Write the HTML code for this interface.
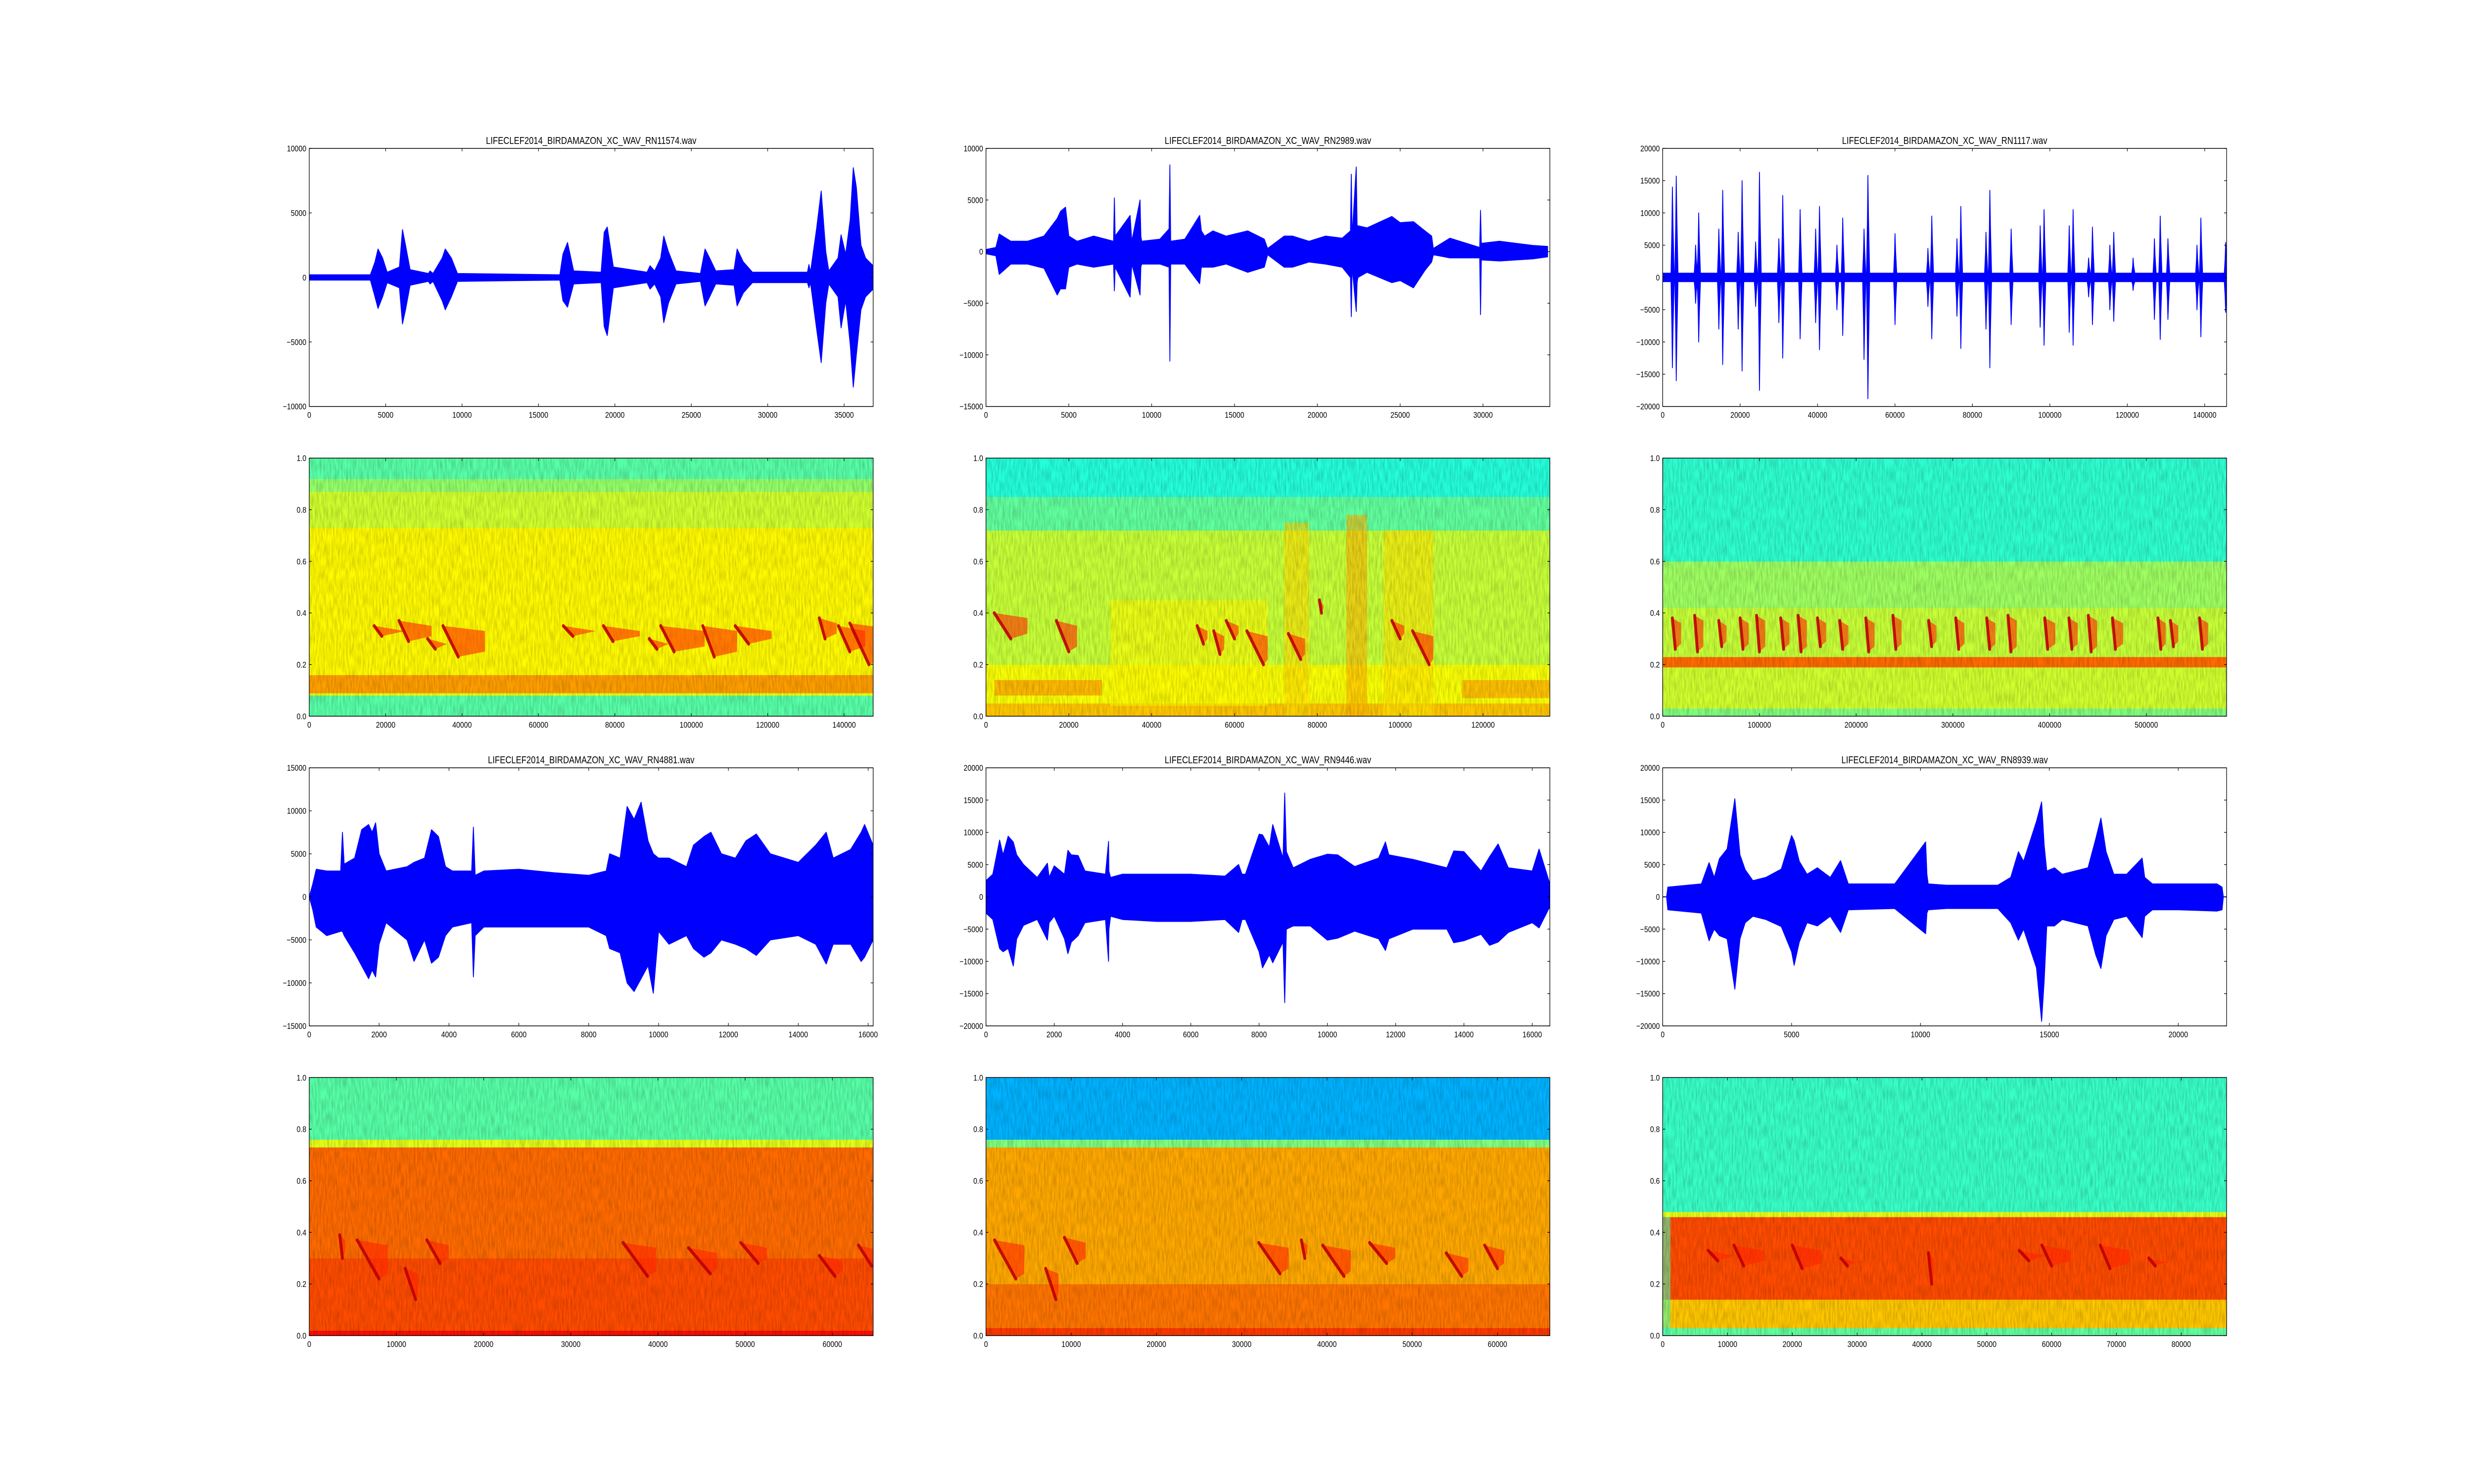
<!DOCTYPE html>
<html>
<head>
<meta charset="utf-8">
<style>
  html, body { margin: 0; padding: 0; background: #fff; width: 100%; height: 100%; overflow: hidden; }
  svg { display: block; width: 100vw; height: 100vh; }
  text { font-family: "Liberation Sans", "DejaVu Sans", sans-serif; fill: #000; }
</style>
</head>
<body>
<svg id="fig" viewBox="0 0 6000 3000" preserveAspectRatio="none" xmlns="http://www.w3.org/2000/svg">
  <defs>
    <filter id="speckle" x="0" y="0" width="100%" height="100%">
      <feTurbulence type="fractalNoise" baseFrequency="0.25 0.04" numOctaves="2" seed="3" result="n"/>
      <feColorMatrix type="matrix" values="0 0 0 0 0  0 0 0 0 0  0 0 0 0 0  0 0 0 -1.6 1.1" in="n"/>
    </filter>
  </defs>
  <rect x="0" y="0" width="6000" height="3000" fill="#ffffff"/>
</svg>
<script>
// ---------------- DATA ----------------
const titles = [
  "LIFECLEF2014_BIRDAMAZON_XC_WAV_RN11574.wav",
  "LIFECLEF2014_BIRDAMAZON_XC_WAV_RN2989.wav",
  "LIFECLEF2014_BIRDAMAZON_XC_WAV_RN1117.wav",
  "LIFECLEF2014_BIRDAMAZON_XC_WAV_RN4881.wav",
  "LIFECLEF2014_BIRDAMAZON_XC_WAV_RN9446.wav",
  "LIFECLEF2014_BIRDAMAZON_XC_WAV_RN8939.wav"
];
const waveXmax = [36900, 34036, 145650, 16144, 16517, 21876];
const waveYmin = [-10000, -15000, -20000, -15000, -20000, -20000];
const waveYmax = [10000, 10000, 20000, 15000, 20000, 20000];
const waveXTicks = [
  [0,5000,10000,15000,20000,25000,30000,35000],
  [0,5000,10000,15000,20000,25000,30000],
  [0,20000,40000,60000,80000,100000,120000,140000],
  [0,2000,4000,6000,8000,10000,12000,14000,16000],
  [0,2000,4000,6000,8000,10000,12000,14000,16000],
  [0,5000,10000,15000,20000]
];
const waveYTicks = [
  [-10000,-5000,0,5000,10000],
  [-15000,-10000,-5000,0,5000,10000],
  [-20000,-15000,-10000,-5000,0,5000,10000,15000,20000],
  [-15000,-10000,-5000,0,5000,10000,15000],
  [-20000,-15000,-10000,-5000,0,5000,10000,15000,20000],
  [-20000,-15000,-10000,-5000,0,5000,10000,15000,20000]
];

const w1x  = [0,4000,4300,4500,4800,5100,5900,6100,6300,6600,7800,7900,8100,8700,8900,9300,9700,16400,16600,16900,17300,19100,19300,19500,19900,22100,22300,22600,23000,23200,23500,24000,25600,25900,26200,26600,27800,28000,28400,29000,32600,32700,32800,33200,33500,33800,34000,34600,34800,35100,35400,35600,35800,36100,36400,36900];
const w1hi = [200,200,1200,2200,1500,400,800,3700,2500,600,300,500,300,1500,2200,1500,300,200,1800,2700,500,400,3500,3900,800,400,900,500,1500,3200,2000,500,300,2200,1500,500,600,2200,1200,400,400,1000,400,3800,6700,2000,500,1500,3300,1800,4500,8500,7000,2500,1500,900];
const w1lo = [-200,-200,-1500,-2400,-1500,-400,-800,-3600,-2500,-600,-300,-500,-300,-1800,-2500,-1500,-300,-200,-1800,-2300,-500,-400,-3800,-4500,-800,-400,-900,-500,-1500,-3500,-2000,-500,-300,-2200,-1500,-500,-600,-2200,-1200,-400,-400,-800,-400,-4000,-6600,-2000,-500,-1500,-3900,-1800,-5200,-8500,-6000,-2500,-1500,-900];

const w2x  = [0,600,800,1500,2500,3500,4300,4500,4800,5000,5500,6500,7700,7750,7800,8700,8800,9300,9350,9400,10500,11050,11100,11150,12000,12900,13000,13200,13700,14500,15800,16800,17000,18000,18500,19500,20500,21500,22000,22050,22100,22350,22400,22450,23000,24500,25000,25800,26500,26900,27000,28000,29800,29850,29900,31000,33000,33900];
const w2hi = [200,400,1700,1000,1000,1500,3200,3900,4300,1500,1000,1500,1000,5200,1500,3500,1000,5000,1500,1000,1200,2200,8400,1000,1200,3500,2000,1500,2000,1500,2000,1200,300,1500,1500,1000,1500,1300,2000,7500,1500,8200,2500,2500,2300,3400,2800,2900,2000,1500,300,1300,400,4000,800,1000,600,500];
const w2lo = [-200,-400,-2200,-1200,-1200,-1600,-4200,-3600,-3600,-1500,-1200,-1500,-1200,-3800,-1500,-4400,-1200,-4200,-1500,-1200,-1200,-1500,-10600,-1200,-1200,-3100,-1500,-1500,-1500,-1200,-2000,-1500,-300,-1500,-1500,-1000,-1200,-1500,-2500,-6300,-1500,-5800,-3000,-2500,-2000,-3000,-2800,-3500,-1800,-1000,-300,-600,-600,-6100,-800,-900,-700,-500];

const w3base = 650;
const w3spikeX  = [2500,3500,8500,9300,14500,15500,19500,20500,24000,25000,30000,31000,35500,39500,40500,45000,46500,52000,53000,60000,68500,69500,76000,77000,83500,84500,90000,97500,98500,105000,106000,110000,111000,115500,116500,121500,127000,128500,130500,138000,139000,145400];
const w3spikeHi = [14000,15700,5000,10000,7500,13500,7000,15000,5500,16300,6000,12700,10500,7500,11000,5000,9200,7500,15800,6800,4500,9500,6000,11000,7000,13500,7500,8000,10500,8000,10500,3000,7800,5000,7000,3000,6000,9500,6000,5000,9200,5400];
const w3spikeLo = [-14000,-16000,-4000,-10000,-8000,-13500,-8000,-14500,-4500,-17500,-7000,-12500,-9500,-7000,-11200,-5000,-9000,-12700,-18800,-7300,-4500,-9500,-6000,-11000,-8000,-14000,-7300,-7700,-10500,-8500,-10500,-3000,-7300,-5000,-6800,-2000,-6500,-9600,-6500,-5000,-9200,-5400];

const w4x  = [0,100,200,500,900,950,1000,1300,1500,1700,1800,1900,2000,2200,2800,3000,3300,3500,3700,3900,4100,4650,4700,4750,5000,6000,7000,8000,8500,8600,8900,9100,9300,9500,9700,9850,10000,10300,10800,11000,11300,11500,11800,12200,12500,12800,13200,14000,14500,14800,15000,15500,15800,15900,16144];
const w4hi = [0,1500,3200,3000,3000,7500,3800,4500,7800,8400,7500,8600,5000,3000,3500,4000,4500,7800,7000,3500,3000,3000,8100,2500,3000,3200,2800,2500,3000,5000,4500,10500,9000,11000,6500,5000,4500,4500,3500,6000,7000,7500,5000,4500,6500,7300,5000,4000,6000,7500,4500,5500,7500,8400,6000];
const w4lo = [0,-1500,-3500,-4500,-4000,-4000,-4500,-6500,-8000,-9500,-8500,-9300,-5500,-3000,-5000,-7500,-5000,-7700,-7000,-4500,-3500,-3000,-9300,-4500,-3500,-3500,-3500,-3500,-4500,-6000,-6500,-10000,-11000,-9500,-8000,-11200,-4000,-5500,-4500,-6000,-7000,-6500,-5000,-5500,-6000,-6800,-5000,-4500,-5500,-7800,-5500,-5500,-7500,-7000,-5000];

const w5x  = [0,200,400,500,650,800,900,1100,1500,1800,1850,2000,2300,2400,2500,2700,2900,3500,3590,3600,3650,4000,5000,6000,7000,7400,7500,7600,8000,8100,8300,8400,8700,8750,8800,9000,9500,10000,10300,10800,11500,11700,11800,12500,13500,13700,14000,14500,14750,15000,15300,16000,16200,16517];
const w5hi = [2500,3500,8800,6500,9400,8500,6500,5000,3000,5200,3000,4800,3500,7200,6500,6400,4000,3500,8600,4000,3000,3500,3500,3500,3200,5000,3500,3500,9700,9600,7700,11200,6000,16100,7000,4500,5800,6600,6500,4700,6000,8500,6500,5800,4500,7100,7000,4000,6200,8200,4500,4000,7400,2000];
const w5lo = [-2500,-3500,-8000,-8500,-8000,-10700,-6500,-4400,-3500,-6700,-4000,-3000,-6500,-8800,-7000,-6000,-4000,-3500,-10000,-5100,-3000,-3500,-3800,-3800,-3500,-5500,-3500,-3500,-8500,-11000,-9000,-10200,-7000,-16400,-5000,-4500,-4500,-6700,-6400,-5300,-6500,-8300,-6500,-5000,-5000,-7100,-6800,-5800,-7500,-7000,-5500,-4000,-4800,-1500];

const w6x  = [0,150,200,1500,1800,2000,2200,2500,2800,3000,3200,3500,4000,4600,5000,5100,5300,5600,6000,6500,6900,7200,9000,10200,10250,10300,11000,12000,13000,13500,13800,14000,14500,14700,14800,14900,15200,15500,16500,16800,17000,17200,17500,18000,18600,18700,19000,20000,21500,21700,21750,21876];
const w6hi = [0,0,1500,2000,5300,3000,5900,7400,15200,6500,4200,2500,3000,4300,9500,8700,5500,3500,4500,3000,5600,2000,2000,8500,3500,2000,1800,1800,1800,3000,7000,5500,11700,14700,8000,4000,4500,3500,4500,9000,12200,7000,3500,3500,6000,3000,2000,2000,2000,1500,0,0];
const w6lo = [0,0,-2000,-2500,-6800,-5000,-6000,-6500,-14300,-6500,-4000,-3000,-3500,-4600,-8500,-10600,-7000,-4000,-4500,-3000,-5500,-2000,-1800,-5700,-2500,-2000,-1800,-1800,-1800,-4000,-6700,-5000,-11000,-19300,-13000,-4500,-4500,-3500,-4500,-9000,-11100,-6000,-3500,-3000,-6300,-3000,-2000,-2000,-2200,-2000,0,0];

const specXmax = [147600, 136140, 583000, 64680, 66150, 87000];
const specXTicks = [
  [0,20000,40000,60000,80000,100000,120000,140000],
  [0,20000,40000,60000,80000,100000,120000],
  [0,100000,200000,300000,400000,500000],
  [0,10000,20000,30000,40000,50000,60000],
  [0,10000,20000,30000,40000,50000,60000],
  [0,10000,20000,30000,40000,50000,60000,70000,80000]
];
const specYTicks = [0.0, 0.2, 0.4, 0.6, 0.8, 1.0];
const s1bandLo = [0,0.08,0.09,0.16,0.73,0.87,0.92];
const s1bandHi = [0.08,0.09,0.16,0.73,0.87,0.92,1];
const s1bandLv = [0.46,0.6,0.72,0.63,0.58,0.52,0.46];
const s2bandLo = [0,0.05,0.2,0.72,0.85];
const s2bandHi = [0.05,0.2,0.72,0.85,1];
const s2bandLv = [0.68,0.62,0.57,0.47,0.41];
const s3bandLo = [0,0.03,0.19,0.23,0.42,0.6];
const s3bandHi = [0.03,0.19,0.23,0.42,0.6,1];
const s3bandLv = [0.5,0.58,0.77,0.57,0.53,0.42];
const s4bandLo = [0,0.02,0.3,0.73,0.76];
const s4bandHi = [0.02,0.3,0.73,0.76,1];
const s4bandLv = [0.86,0.8,0.77,0.6,0.46];
const s5bandLo = [0,0.03,0.2,0.73,0.76];
const s5bandHi = [0.03,0.2,0.73,0.76,1];
const s5bandLv = [0.82,0.76,0.71,0.5,0.3];
const s6bandLo = [0,0.03,0.14,0.46,0.48];
const s6bandHi = [0.03,0.14,0.46,0.48,1];
const s6bandLv = [0.47,0.68,0.8,0.6,0.43];
const s2patchT0 = [30000,72000,87000,96000,2000,115000];
const s2patchT1 = [68000,78000,92000,108000,28000,136000];
const s2patchF0 = [0.04,0,0,0,0.08,0.07];
const s2patchF1 = [0.45,0.75,0.78,0.72,0.14,0.14];
const s2patchLv = [0.63,0.66,0.7,0.65,0.74,0.73];
const s6patchT0 = [0];
const s6patchT1 = [1200];
const s6patchF0 = [0];
const s6patchF1 = [0.46];
const s6patchLv = [0.45];
const s1callT = [17000,23500,31000,35000,66500,77000,89000,92000,103000,111500,133500,138500,141500];
const s1callF0 = [0.35,0.37,0.3,0.35,0.35,0.35,0.3,0.35,0.35,0.35,0.38,0.35,0.36];
const s1callF1 = [0.31,0.29,0.26,0.23,0.31,0.29,0.26,0.25,0.23,0.28,0.3,0.25,0.2];
const s1callD = [2000,2500,2000,4000,2500,2500,2000,3500,3000,3500,1500,3000,5000];
const s1callTail = [6000,6000,3000,7000,6000,7000,3000,8000,6000,6000,3000,4000,5000];
const s2callT = [2000,17000,51000,55000,58000,63000,73000,80500,98000,103000];
const s2callF0 = [0.4,0.37,0.35,0.33,0.37,0.33,0.32,0.45,0.37,0.33];
const s2callF1 = [0.3,0.25,0.28,0.24,0.3,0.2,0.22,0.4,0.3,0.2];
const s2callD = [4000,3000,1500,1500,2000,4000,3000,500,2000,4000];
const s2callTail = [4000,2000,1000,1000,1000,1000,1000,500,1000,1000];
const s3callT = [10000,33000,58000,80000,97000,122000,140000,160000,183000,210000,238000,275000,303000,335000,357000,395000,420000,440000,465000,512000,525000,555000];
const s3callF0 = [0.38,0.39,0.37,0.38,0.39,0.38,0.39,0.38,0.37,0.38,0.39,0.37,0.38,0.38,0.39,0.38,0.38,0.39,0.38,0.38,0.37,0.38];
const s3callF1 = [0.26,0.25,0.27,0.26,0.25,0.26,0.25,0.27,0.26,0.25,0.26,0.27,0.26,0.26,0.25,0.26,0.26,0.25,0.26,0.26,0.27,0.26];
const s3callD = [3000,3000,3000,3000,3000,3000,3000,3000,3000,3000,3000,3000,3000,3000,3000,3000,3000,3000,3000,3000,3000,3000];
const s3callTail = [6000,6000,5000,6000,6000,6000,6000,6000,6000,6000,6000,5000,6000,6000,6000,8000,6000,6000,8000,5000,5000,6000];
const s4callT = [5500,13500,36000,43500,49500,58500,63000,11000,3500];
const s4callF0 = [0.37,0.37,0.36,0.34,0.36,0.31,0.35,0.26,0.39];
const s4callF1 = [0.22,0.28,0.23,0.24,0.28,0.23,0.27,0.14,0.3];
const s4callD = [2500,1500,2800,2500,2000,1800,1500,1200,300];
const s4callTail = [1000,1000,1000,800,1000,800,800,300,300];
const s5callT = [1000,9200,32000,39500,45000,54000,58500,7000,37000];
const s5callF0 = [0.37,0.38,0.36,0.35,0.36,0.32,0.35,0.26,0.37];
const s5callF1 = [0.22,0.28,0.24,0.23,0.28,0.23,0.26,0.14,0.3];
const s5callD = [2500,1500,2500,2500,2000,1800,1500,1200,400];
const s5callTail = [1000,1000,1000,800,1000,800,800,300,300];
const s6callT = [7000,11000,20000,27500,41000,55000,58500,67500,75000];
const s6callF0 = [0.33,0.35,0.35,0.3,0.32,0.33,0.35,0.35,0.3];
const s6callF1 = [0.29,0.27,0.26,0.27,0.2,0.29,0.27,0.26,0.27];
const s6callD = [1500,1500,1500,1000,500,1500,1500,1500,1000];
const s6callTail = [2500,3000,3000,2000,300,2500,3000,3000,2000];

// ---------------- LAYOUT ----------------
const colX = [750, 2391.2, 4032.4];
const rowY = [300, 926.1, 1552.2, 2178.3];
const AW = 1367.6, AH = 521.7;
const NS = "http://www.w3.org/2000/svg";
const svg = document.getElementById("fig");

function el(tag, attrs, parent) {
  const e = document.createElementNS(NS, tag);
  for (const k in attrs) e.setAttribute(k, attrs[k]);
  parent.appendChild(e);
  return e;
}
function jet(v) {
  const c = t => Math.round(255 * Math.max(0, Math.min(1, t)));
  return "rgb(" + c(1.5 - Math.abs(4 * v - 3)) + "," + c(1.5 - Math.abs(4 * v - 2)) + "," + c(1.5 - Math.abs(4 * v - 1)) + ")";
}
function fmt(v) { return v < 0 ? "\u2212" + (-v) : String(v); }
function fmtF(v) { return v.toFixed(1); }

let clipId = 0;
function makeAxes(x0, y0, xmin, xmax, ymin, ymax, name) {
  const g = el("g", {}, svg);
  
  
  const sx = v => x0 + (v - xmin) / (xmax - xmin) * AW;
  const sy = v => y0 + AH - (v - ymin) / (ymax - ymin) * AH;
  const id = "clip" + (clipId++);
  const cp = el("clipPath", {id: id}, g);
  el("rect", {x: x0, y: y0, width: AW, height: AH}, cp);
  const plot = el("g", {"clip-path": "url(#" + id + ")"}, g);
  
  
  return {g, plot, sx, sy, x0, y0};
}
function drawFrame(ax, xticks, yticks, yfmt, name) {
  const {g, sx, sy, x0, y0} = ax;
  const frame = el("rect", {x: x0, y: y0, width: AW, height: AH, fill: "none", stroke: "#000", "stroke-width": 1.5}, g);
  
  
  const xa = el("g", {}, g);
  
  
  xticks.forEach(t => {
    const X = sx(t);
    el("line", {x1: X, y1: y0 + AH, x2: X, y2: y0 + AH - 6, stroke: "#000", "stroke-width": 1.3}, xa);
    el("line", {x1: X, y1: y0, x2: X, y2: y0 + 6, stroke: "#000", "stroke-width": 1.3}, xa);
    const tx = el("text", {x: X, y: y0 + AH + 23, "font-size": 17, "text-anchor": "middle"}, xa);
    
    
    tx.textContent = fmt(t);
  });
  const ya = el("g", {}, g);
  
  
  yticks.forEach(t => {
    const Y = sy(t);
    el("line", {x1: x0, y1: Y, x2: x0 + 6, y2: Y, stroke: "#000", "stroke-width": 1.3}, ya);
    el("line", {x1: x0 + AW, y1: Y, x2: x0 + AW - 6, y2: Y, stroke: "#000", "stroke-width": 1.3}, ya);
    const ty = el("text", {x: x0 - 7, y: Y + 6, "font-size": 17, "text-anchor": "end"}, ya);
    
    
    ty.textContent = yfmt(t);
  });
}

function drawEnvelope(ax, xs, hi, lo, name) {
  let pts = [];
  for (let i = 0; i < xs.length; i++) pts.push(ax.sx(xs[i]).toFixed(1) + "," + ax.sy(hi[i]).toFixed(1));
  for (let i = xs.length - 1; i >= 0; i--) pts.push(ax.sx(xs[i]).toFixed(1) + "," + ax.sy(lo[i]).toFixed(1));
  const p = el("polygon", {points: pts.join(" "), fill: "#0000ff", stroke: "#0000ff", "stroke-width": 2, "stroke-linejoin": "round"}, ax.plot);
  
  
}

function drawSpec(ax, bLo, bHi, bLv, pT0, pT1, pF0, pF1, pLv, cT, cF0, cF1, cD, cTail, name) {
  for (let i = 0; i < bLo.length; i++) {
    const r = el("rect", {x: ax.x0, y: ax.sy(bHi[i]), width: AW, height: ax.sy(bLo[i]) - ax.sy(bHi[i]) + 0.5, fill: jet(bLv[i])}, ax.plot);
    
    
  }
  for (let i = 0; i < pT0.length; i++) {
    const r = el("rect", {x: ax.sx(pT0[i]), y: ax.sy(pF1[i]), width: ax.sx(pT1[i]) - ax.sx(pT0[i]), height: ax.sy(pF0[i]) - ax.sy(pF1[i]), fill: jet(pLv[i]), opacity: 0.6}, ax.plot);
    
    
  }
  const tex = el("rect", {x: ax.x0, y: ax.y0, width: AW, height: AH, fill: "#ff9a00", filter: "url(#speckle)", opacity: 0.2}, ax.plot);
  
  
  for (let i = 0; i < cT.length; i++) {
    const tail = el("polygon", {
      points: [
        ax.sx(cT[i]) + "," + ax.sy(cF0[i]),
        ax.sx(cT[i] + cD[i] + cTail[i]) + "," + ax.sy(cF0[i] - 0.02),
        ax.sx(cT[i] + cD[i] + cTail[i]) + "," + ax.sy(cF1[i] + 0.02),
        ax.sx(cT[i] + cD[i]) + "," + ax.sy(cF1[i])
      ].join(" "),
      fill: jet(0.84), opacity: 0.6}, ax.plot);
    
    
    const ln = el("line", {x1: ax.sx(cT[i]), y1: ax.sy(cF0[i]), x2: ax.sx(cT[i] + cD[i]), y2: ax.sy(cF1[i]), stroke: jet(0.94), "stroke-width": 7, "stroke-linecap": "round", opacity: 0.9}, ax.plot);
    
    
  }
}

function spikeEnvelope(xmax, base, sx_, shi, slo) {
  const xs = [0], hi = [base], lo = [-base];
  for (let i = 0; i < sx_.length; i++) {
    xs.push(sx_[i] - 350, sx_[i] - 120, sx_[i], sx_[i] + 150, sx_[i] + 450);
    hi.push(base, shi[i] * 0.55, shi[i], shi[i] * 0.6, base);
    lo.push(-base, slo[i] * 0.55, slo[i], slo[i] * 0.6, -base);
  }
  xs.push(xmax); hi.push(base); lo.push(-base);
  return {xs, hi, lo};
}

// ---------------- BUILD ----------------
const waveX = [w1x, w2x, null, w4x, w5x, w6x];
const waveHi = [w1hi, w2hi, null, w4hi, w5hi, w6hi];
const waveLo = [w1lo, w2lo, null, w4lo, w5lo, w6lo];
const e3 = spikeEnvelope(waveXmax[2], w3base, w3spikeX, w3spikeHi, w3spikeLo);
waveX[2] = e3.xs; waveHi[2] = e3.hi; waveLo[2] = e3.lo;

const specBands = [
  [s1bandLo, s1bandHi, s1bandLv], [s2bandLo, s2bandHi, s2bandLv], [s3bandLo, s3bandHi, s3bandLv],
  [s4bandLo, s4bandHi, s4bandLv], [s5bandLo, s5bandHi, s5bandLv], [s6bandLo, s6bandHi, s6bandLv]
];
const specPatches = [
  [[],[],[],[],[]], [s2patchT0, s2patchT1, s2patchF0, s2patchF1, s2patchLv], [[],[],[],[],[]],
  [[],[],[],[],[]], [[],[],[],[],[]], [s6patchT0, s6patchT1, s6patchF0, s6patchF1, s6patchLv]
];
const specCalls = [
  [s1callT, s1callF0, s1callF1, s1callD, s1callTail], [s2callT, s2callF0, s2callF1, s2callD, s2callTail],
  [s3callT, s3callF0, s3callF1, s3callD, s3callTail], [s4callT, s4callF0, s4callF1, s4callD, s4callTail],
  [s5callT, s5callF0, s5callF1, s5callD, s5callTail], [s6callT, s6callF0, s6callF1, s6callD, s6callTail]
];

for (let k = 0; k < 6; k++) {
  const col = k % 3, pair = Math.floor(k / 3);
  const x0 = colX[col];
  const wy = rowY[pair * 2];
  const wname = "waveform-" + (k + 1);
  const ax = makeAxes(x0, wy, 0, waveXmax[k], waveYmin[k], waveYmax[k], wname);
  drawEnvelope(ax, waveX[k], waveHi[k], waveLo[k], wname + "-signal");
  drawFrame(ax, waveXTicks[k], waveYTicks[k], fmt, wname);
  const title = el("text", {x: x0 + AW / 2, y: wy - 9, "font-size": 20, "text-anchor": "middle"}, ax.g);
  
  
  title.textContent = titles[k];
  const sy0 = rowY[pair * 2 + 1];
  const sname = "spectrogram-" + (k + 1);
  const as = makeAxes(x0, sy0, 0, specXmax[k], 0, 1, sname);
  const b = specBands[k], p = specPatches[k], c = specCalls[k];
  drawSpec(as, b[0], b[1], b[2], p[0], p[1], p[2], p[3], p[4], c[0], c[1], c[2], c[3], c[4], sname);
  drawFrame(as, specXTicks[k], specYTicks, fmtF, sname);
}
</script>
</body>
</html>
